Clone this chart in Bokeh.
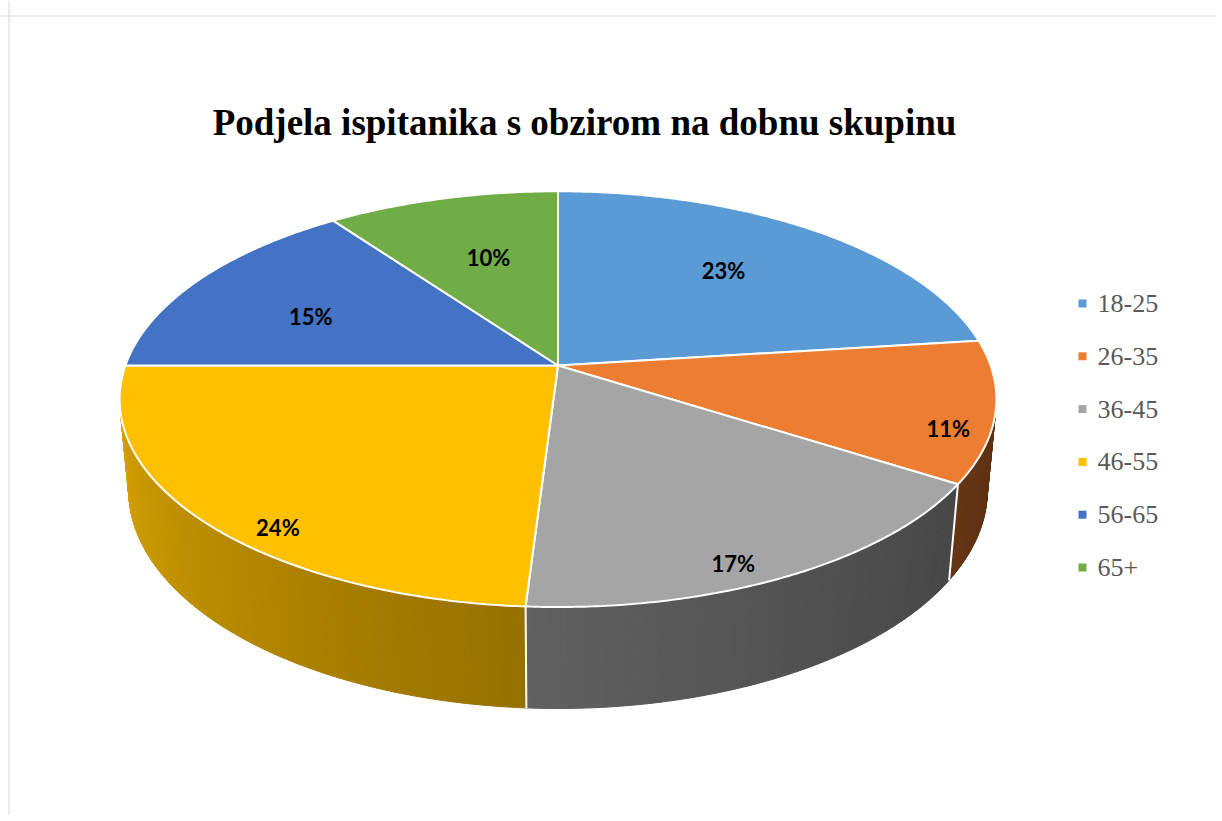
import numpy as np
from bokeh.plotting import figure
from bokeh.models import Range1d, Span, ColumnDataSource
from bokeh.core.properties import value
from bokeh.embed import file_html
from bokeh.resources import INLINE

# ---------------- data ----------------
categories = ["18-25", "26-35", "36-45", "46-55", "56-65", "65+"]
shares = [23, 11, 17, 24, 15, 10]
pct_text = ["23%", "11%", "17%", "24%", "15%", "10%"]
title_text = "Podjela ispitanika s obzirom na dobnu skupinu"

# ---------------- styles / layout ----------------
colors = ["#5B9BD5", "#ED7D31", "#A5A5A5", "#FFC000", "#4472C4", "#70AD47"]
label_r = [0.654, 0.908, 0.914, 0.911, 0.645, 0.608]
label_shift_deg = [-2.1, 6.3, 4.5, -7.8, -4.2, 1.2]

W, H = 1216, 815
CX, CY = 557.5, 365.0      # screen position of pie centre
F, L = 2362.0, 5.46        # perspective focal / distance
PHI = np.radians(27.9)     # elevation
T = 0.241                  # thickness (relative to radius)


def proj(theta, r=1.0, Y=0.0):
    theta = np.asarray(theta, dtype=float)
    X = r * np.sin(theta)
    Z = r * np.cos(theta)
    d = L + Z * np.cos(PHI) - Y * np.sin(PHI)
    sx = F * X / d
    sy = F * (Y * np.cos(PHI) + Z * np.sin(PHI)) / d
    return CX + sx, CY - sy


def shade(hexcol, f):
    h = hexcol.lstrip("#")
    r, g, b = (int(h[i:i + 2], 16) for i in (0, 2, 4))
    return "#%02x%02x%02x" % (int(r * f), int(g * f), int(b * f))


p = figure(width=W, height=H, output_backend="svg", toolbar_location=None,
           x_range=Range1d(0, W), y_range=Range1d(H, 0),
           x_axis_location=None, y_axis_location=None, min_border=0)
p.grid.visible = False
p.outline_line_color = None
p.background_fill_color = "white"
p.border_fill_color = "white"

# border of chart area
p.add_layout(Span(location=15.5, dimension="width", line_color="#D9D9D9", line_width=1))
p.add_layout(Span(location=8.5, dimension="height", line_color="#D9D9D9", line_width=1))

# angles
tot = float(sum(shares))
cum = np.concatenate([[0.0], np.cumsum(shares)]) / tot * 2 * np.pi
starts, ends = cum[:-1], cum[1:]

th_r = np.arccos(-1.0 / (L * np.cos(PHI)))
th_l = 2 * np.pi - th_r

# ---------------- side walls ----------------
sx_list, sy_list, scol = [], [], []
bx0, by0, bx1, by1 = [], [], [], []
step = np.radians(0.5)
for i in range(len(shares)):
    a0, a1 = max(starts[i], th_r), min(ends[i], th_l)
    if a1 <= a0:
        continue
    n = max(2, int(np.ceil((a1 - a0) / step)))
    tt = np.linspace(a0, a1, n + 1)
    for k in range(n):
        t0, t1 = tt[k], tt[k + 1]
        xt, yt = proj([t0, t1])
        xb, yb = proj([t1, t0], Y=-T)
        sx_list.append(list(xt) + list(xb))
        sy_list.append(list(yt) + list(yb))
        u = ((t0 + t1) / 2 - th_r) / (th_l - th_r)
        f = 0.40 + 0.44 * u ** 1.3
        scol.append(shade(colors[i], f))
for b in starts[1:]:
    if th_r < b < th_l:
        x0, y0 = proj(b)
        x1, y1 = proj(b, Y=-T)
        bx0.append(float(x0)); by0.append(float(y0))
        bx1.append(float(x1)); by1.append(float(y1))

p.patches(xs="xs", ys="ys", fill_color="c", line_color="c", line_width=1,
          source=ColumnDataSource(dict(xs=sx_list, ys=sy_list, c=scol)))
p.segment(x0=bx0, y0=by0, x1=bx1, y1=by1, line_color="white", line_width=2)

# ---------------- top face ----------------
txs, tys = [], []
for i in range(len(shares)):
    n = max(4, int(np.ceil((ends[i] - starts[i]) / np.radians(0.5))))
    tt = np.linspace(starts[i], ends[i], n + 1)
    xa, ya = proj(tt)
    txs.append([CX] + list(xa))
    tys.append([CY] + list(ya))
p.patches(xs="xs", ys="ys", fill_color="c", line_color="white", line_width=2,
          source=ColumnDataSource(dict(xs=txs, ys=tys, c=colors)))

# ---------------- data labels ----------------
mids = (starts + ends) / 2 + np.radians(label_shift_deg)
lx, ly = [], []
for i in range(len(shares)):
    x, y = proj(mids[i], r=label_r[i])
    lx.append(float(x)); ly.append(float(y))
p.text(x=lx, y=ly, text=pct_text, text_font=value("Lato"), text_font_style="bold",
       text_font_size="22px", text_align="center", text_baseline="middle",
       text_color="#000000")

# ---------------- title ----------------
p.text(x=[584], y=[122], text=[title_text], text_font=value("Liberation Serif"),
       text_font_style="bold", text_font_size="37px", text_align="center",
       text_baseline="alphabetic", text_color="#000000")

# ---------------- legend ----------------
leg_y = [303 + 52.8 * i for i in range(len(categories))]
p.scatter(x=[1082] * len(categories), y=leg_y, marker="square", size=8,
          fill_color=colors, line_color=None)
p.text(x=[1097] * len(categories), y=leg_y, text=categories,
       text_font=value("Liberation Serif"), text_font_size="26px",
       text_align="left", text_baseline="middle", text_color="#595959")

open("out.html", "w").write(file_html(p, INLINE))
